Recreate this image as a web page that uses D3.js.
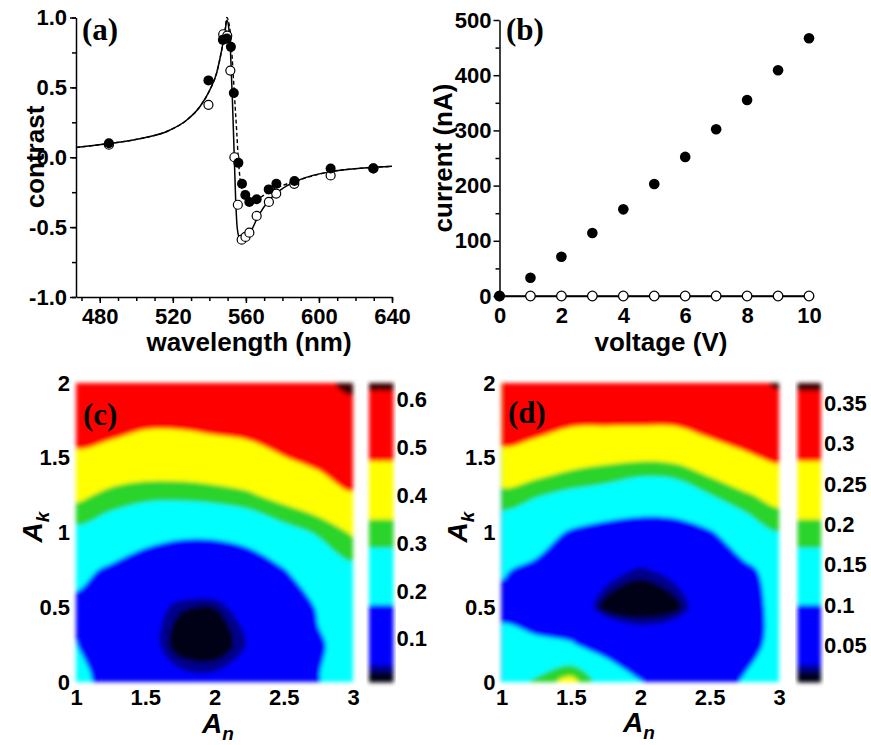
<!DOCTYPE html>
<html>
<head>
<meta charset="utf-8">
<script src="https://cdn.jsdelivr.net/npm/d3@7"></script>
<style>
  body { margin: 0; background: #fff; }
  svg text { font-family: "Liberation Sans", Arial, sans-serif; font-weight: bold; fill: #000; }
  .axis path, .axis line { stroke: #000; stroke-width: 1.5px; }
  .axis text { font-size: 22px; }
  .panel-label { font-family: "Liberation Serif", "Times New Roman", serif !important; font-size: 31px; }
</style>
</head>
<body>
<svg id="chart" width="871" height="745"></svg>
<script>
// ---- panel (a): contrast vs wavelength
var wlFilled = [485, 539.5, 547.4, 549.6, 551.8, 553.4, 555.9, 557.9, 559.7, 561.9, 565.9, 572.5, 576.7, 586.6, 606.4, 629.8];
var cFilled  = [0.10, 0.55, 0.84, 0.85, 0.79, 0.46, -0.04, -0.19, -0.27, -0.32, -0.30, -0.23, -0.19, -0.17, -0.08, -0.08];
var wlOpen = [485, 539.5, 547.6, 549.8, 551.5, 553.7, 555.6, 557.7, 559.8, 561.9, 565.9, 572.6, 576.6, 586.5, 606.4, 629.8];
var cOpen  = [0.09, 0.375, 0.88, 0.87, 0.62, 0.0, -0.34, -0.59, -0.57, -0.54, -0.42, -0.32, -0.26, -0.19, -0.13, -0.08];
// fitted curves (solid: open symbols, dashed: filled symbols)
var wlSolid = [467, 485, 504, 517, 528, 535, 540.4, 544, 546.8, 548.6, 549.6, 550.6, 551.6, 552.6, 553.5, 554.4, 555.3, 556.6, 558, 560, 562.3, 566.8, 573.2, 580.5, 589.6, 607.9, 626, 640];
var cSolid  = [0.07, 0.098, 0.138, 0.186, 0.27, 0.365, 0.485, 0.604, 0.77, 0.90, 0.98, 0.93, 0.75, 0.42, 0.06, -0.30, -0.51, -0.58, -0.585, -0.57, -0.54, -0.42, -0.30, -0.22, -0.16, -0.10, -0.076, -0.065];
var wlDashed = [467, 485, 504, 517, 528, 535, 540.4, 544, 546.8, 548.6, 549.6, 550.7, 551.8, 552.8, 554.0, 555.0, 555.8, 556.7, 558, 560, 562, 565, 570, 575, 580.5, 589.6, 607.9, 626, 640];
var cDashed  = [0.07, 0.098, 0.138, 0.186, 0.27, 0.365, 0.485, 0.604, 0.77, 0.91, 1.0, 0.96, 0.85, 0.65, 0.39, 0.18, 0.0, -0.14, -0.24, -0.30, -0.32, -0.31, -0.27, -0.23, -0.20, -0.16, -0.10, -0.076, -0.065];

// ---- panel (b): current vs voltage
var voltage    = [0, 1, 2, 3, 4, 5, 6, 7, 8, 9, 10];
var currentOn  = [0, 33, 71, 114, 157, 203, 252, 302, 355, 409, 467];
var currentOff = [0, 0, 0, 0, 0, 0, 0, 0, 0, 0, 0];

// ---- panels (c), (d): maps over A_n (columns) and A_k (rows, bottom to top)
var anGrid = [1, 1.25, 1.5, 1.75, 2, 2.25, 2.5, 2.75, 3];
var akGrid = [0, 0.25, 0.5, 0.75, 1, 1.25, 1.5, 1.75, 2];
var mapC = [
  [0.20, 0.14, 0.11, 0.065, 0.06, 0.08, 0.10, 0.17, 0.20],
  [0.175, 0.10, 0.07, 0.015, 0.01, 0.05, 0.09, 0.165, 0.20],
  [0.155, 0.10, 0.07, 0.035, 0.032, 0.07, 0.11, 0.18, 0.22],
  [0.195, 0.16, 0.12, 0.10, 0.10, 0.12, 0.168, 0.23, 0.27],
  [0.27, 0.24, 0.21, 0.19, 0.19, 0.21, 0.26, 0.30, 0.36],
  [0.37, 0.33, 0.31, 0.31, 0.32, 0.34, 0.38, 0.42, 0.465],
  [0.46, 0.43, 0.42, 0.42, 0.43, 0.44, 0.47, 0.50, 0.54],
  [0.51, 0.52, 0.49, 0.49, 0.50, 0.51, 0.53, 0.56, 0.58],
  [0.55, 0.55, 0.55, 0.55, 0.56, 0.57, 0.58, 0.60, 0.64]
];
var mapD = [
  [0.14, 0.18, 0.225, 0.14, 0.104, 0.07, 0.075, 0.105, 0.12],
  [0.115, 0.11, 0.105, 0.08, 0.05, 0.06, 0.06, 0.085, 0.115],
  [0.09, 0.075, 0.06, 0.008, 0.004, 0.01, 0.05, 0.075, 0.12],
  [0.105, 0.09, 0.07, 0.04, 0.022, 0.035, 0.06, 0.09, 0.12],
  [0.145, 0.125, 0.095, 0.08, 0.08, 0.08, 0.095, 0.135, 0.17],
  [0.19, 0.175, 0.16, 0.15, 0.13, 0.135, 0.17, 0.20, 0.225],
  [0.27, 0.25, 0.23, 0.22, 0.215, 0.22, 0.245, 0.27, 0.29],
  [0.30, 0.305, 0.29, 0.29, 0.29, 0.29, 0.31, 0.32, 0.33],
  [0.32, 0.325, 0.32, 0.32, 0.32, 0.325, 0.33, 0.345, 0.375]
];
var cbDomainC = [0.01, 0.635], cbTicksC = [0.1, 0.2, 0.3, 0.4, 0.5, 0.6];
var cbDomainD = [0.0045, 0.3756], cbTicksD = [0.05, 0.1, 0.15, 0.2, 0.25, 0.3, 0.35];
// colour bands as fractions of the colour bar range
var bandStops  = [0.035, 0.058, 0.26, 0.45, 0.545, 0.74, 0.975];
var bandColors = ["#000014", "#00008c", "#0000ff", "#00ffff", "#2ad42a", "#ffff00", "#ff0000", "#3c0000"];

var svg = d3.select("#chart");
var defs = svg.append("defs");
defs.append("filter").attr("id", "soft")
    .attr("x", "-10%").attr("y", "-10%").attr("width", "120%").attr("height", "120%")
  .append("feGaussianBlur").attr("stdDeviation", 2.2);

function panelLabel(txt, x, y) {
  svg.append("text").attr("class", "panel-label").attr("x", x).attr("y", y).text(txt);
}

// ================= (a) =================
var xA = d3.scaleLinear().domain([467, 640]).range([76, 392]),
    yA = d3.scaleLinear().domain([-1, 1]).range([297, 17.5]);

svg.append("g").attr("class", "axis minor").attr("transform", "translate(0,297)")
  .call(d3.axisBottom(xA).tickValues(d3.range(470, 641, 10)).tickSize(4).tickFormat(""))
  .select(".domain").remove();
svg.append("g").attr("class", "axis").attr("transform", "translate(0,297)")
  .call(d3.axisBottom(xA).tickValues([480, 520, 560, 600, 640]).tickSize(6).tickSizeOuter(0).tickPadding(5));
svg.append("g").attr("class", "axis minor").attr("transform", "translate(76,0)")
  .call(d3.axisLeft(yA).tickValues(d3.range(-1, 1.01, 0.25)).tickSize(4).tickFormat(""))
  .select(".domain").remove();
svg.append("g").attr("class", "axis").attr("transform", "translate(76,0)")
  .call(d3.axisLeft(yA).tickValues([-1, -0.5, 0, 0.5, 1]).tickSize(6).tickSizeOuter(0).tickPadding(3)
    .tickFormat(function(d) { return d.toFixed(1); }));

var lineA = d3.line().x(function(d) { return xA(d[0]); }).y(function(d) { return yA(d[1]); })
  .curve(d3.curveMonotoneX);
svg.append("path").datum(d3.zip(wlDashed, cDashed)).attr("d", lineA)
  .attr("fill", "none").attr("stroke", "#000").attr("stroke-width", 1.4).attr("stroke-dasharray", "4,2.5");
svg.append("path").datum(d3.zip(wlSolid, cSolid)).attr("d", lineA)
  .attr("fill", "none").attr("stroke", "#000").attr("stroke-width", 1.5);

svg.append("g").selectAll("circle").data(d3.zip(wlOpen, cOpen)).join("circle")
  .attr("cx", function(d) { return xA(d[0]); }).attr("cy", function(d) { return yA(d[1]); })
  .attr("r", 4.5).attr("fill", "#fff").attr("stroke", "#000").attr("stroke-width", 1.2);
svg.append("g").selectAll("circle").data(d3.zip(wlFilled, cFilled)).join("circle")
  .attr("cx", function(d) { return xA(d[0]); }).attr("cy", function(d) { return yA(d[1]); })
  .attr("r", 5).attr("fill", "#000");

svg.append("text").attr("transform", "translate(44,157) rotate(-90)").attr("text-anchor", "middle")
  .style("font-size", "26px").text("contrast");
svg.append("text").attr("x", 249).attr("y", 351).attr("text-anchor", "middle")
  .style("font-size", "26px").text("wavelength (nm)");
panelLabel("(a)", 82, 40);

// ================= (b) =================
var xB = d3.scaleLinear().domain([0, 10]).range([499.5, 809]),
    yB = d3.scaleLinear().domain([0, 500]).range([296, 20]);

svg.append("g").attr("class", "axis minor").attr("transform", "translate(499.5,0)")
  .call(d3.axisLeft(yB).tickValues(d3.range(50, 500, 100)).tickSize(4).tickFormat(""))
  .select(".domain").remove();
svg.append("g").attr("class", "axis").attr("transform", "translate(499.5,0)")
  .call(d3.axisLeft(yB).tickValues(d3.range(0, 501, 100)).tickSize(6).tickSizeOuter(0).tickPadding(2));
svg.append("g").attr("class", "axis").attr("transform", "translate(0,296)")
  .call(d3.axisBottom(xB).tickValues(d3.range(0, 11, 2)).tickSize(0).tickPadding(11));

var lineB = d3.line().x(function(d) { return xB(d[0]); }).y(function(d) { return yB(d[1]); });
svg.append("path").datum(d3.zip(voltage, currentOff)).attr("d", lineB)
  .attr("fill", "none").attr("stroke", "#000").attr("stroke-width", 1.3);
svg.append("g").selectAll("circle").data(d3.zip(voltage, currentOff)).join("circle")
  .attr("cx", function(d) { return xB(d[0]); }).attr("cy", function(d) { return yB(d[1]); })
  .attr("r", 4.8).attr("fill", "#fff").attr("stroke", "#000").attr("stroke-width", 1.3);
svg.append("g").selectAll("circle").data(d3.zip(voltage, currentOn)).join("circle")
  .attr("cx", function(d) { return xB(d[0]); }).attr("cy", function(d) { return yB(d[1]); })
  .attr("r", 5.3).attr("fill", "#000");

svg.append("text").attr("transform", "translate(452,158) rotate(-90)").attr("text-anchor", "middle")
  .style("font-size", "26px").text("current (nA)");
svg.append("text").attr("x", 661).attr("y", 351).attr("text-anchor", "middle")
  .style("font-size", "26px").text("voltage (V)");
panelLabel("(b)", 506, 40);

// ================= (c), (d) =================
function mapPanel(id, grid, xs, ys, cbX, cbW, cbDomain, cbTicks) {
  var n = anGrid.length, m = akGrid.length;
  var levels = bandStops.map(function(s) { return cbDomain[0] + s * (cbDomain[1] - cbDomain[0]); });
  var color = d3.scaleThreshold().domain(levels).range(bandColors);
  // grid coordinates of d3.contours -> data space
  var gi = d3.scaleLinear().domain([0.5, n - 0.5]).range([anGrid[0], anGrid[n - 1]]),
      gj = d3.scaleLinear().domain([0.5, m - 0.5]).range([akGrid[0], akGrid[m - 1]]);
  var ring = d3.line()
    .x(function(p) { return xs(gi(p[0])); })
    .y(function(p) { return ys(gj(p[1])); })
    .curve(d3.curveCatmullRomClosed.alpha(0.5));
  var values = d3.merge(grid);
  var contours = d3.contours().size([n, m])
    .thresholds([d3.min(values) - 1].concat(levels))(values);

  defs.append("clipPath").attr("id", "clip" + id).append("rect")
    .attr("x", xs.range()[0]).attr("y", ys.range()[1])
    .attr("width", xs.range()[1] - xs.range()[0]).attr("height", ys.range()[0] - ys.range()[1]);
  svg.append("g").attr("filter", "url(#soft)")
    .append("g").attr("clip-path", "url(#clip" + id + ")")
    .selectAll("path").data(contours).join("path")
    .attr("d", function(c) {
      return c.coordinates.map(function(poly) {
        return poly.map(function(r) { return ring(r.slice(0, -1)); }).join("");
      }).join("");
    })
    .attr("fill-rule", "evenodd")
    .attr("fill", function(d) { return color(d.value); });

  // colour bar
  var cbY = d3.scaleLinear().domain(cbDomain).range(ys.range());
  var edges = [cbDomain[0]].concat(levels, [cbDomain[1]]);
  svg.append("g").attr("filter", "url(#soft)").selectAll("rect").data(d3.pairs(edges)).join("rect")
    .attr("x", cbX).attr("width", cbW)
    .attr("y", function(d) { return cbY(d[1]); })
    .attr("height", function(d) { return cbY(d[0]) - cbY(d[1]) + 0.5; })
    .attr("fill", function(d, i) { return bandColors[i]; });
  svg.append("g").attr("class", "axis").attr("transform", "translate(" + (cbX + cbW) + ",0)")
    .call(d3.axisRight(cbY).tickValues(cbTicks).tickSize(0).tickPadding(3).tickFormat(d3.format("~g")))
    .select(".domain").remove();

  svg.append("g").attr("class", "axis").attr("transform", "translate(" + xs.range()[0] + ",0)")
    .call(d3.axisLeft(ys).tickValues([0, 0.5, 1, 1.5, 2]).tickSize(0).tickPadding(6).tickFormat(d3.format("~g")))
    .select(".domain").remove();
  svg.append("g").attr("class", "axis").attr("transform", "translate(0," + ys.range()[0] + ")")
    .call(d3.axisBottom(xs).tickValues([1, 1.5, 2, 2.5, 3]).tickSize(0).tickPadding(7).tickFormat(d3.format("~g")))
    .select(".domain").remove();
}

function subTitle(x, y, rotate, main, sub) {
  var t = svg.append("text")
    .attr("transform", "translate(" + x + "," + y + ")" + (rotate ? " rotate(-90)" : ""))
    .attr("text-anchor", "middle").style("font-style", "italic").style("font-size", "28px");
  t.append("tspan").text(main);
  t.append("tspan").attr("dy", 7).style("font-size", "19px").text(sub);
}

var xC = d3.scaleLinear().domain([1, 3]).range([76, 353]),
    yC = d3.scaleLinear().domain([0, 2]).range([682, 383]);
mapPanel("c", mapC, xC, yC, 369, 24.5, cbDomainC, cbTicksC);
subTitle(218, 733, false, "A", "n");
subTitle(42, 527, true, "A", "k");
panelLabel("(c)", 83, 425);

var xD = d3.scaleLinear().domain([1, 3]).range([501.5, 779]),
    yD = d3.scaleLinear().domain([0, 2]).range([682, 383]);
mapPanel("d", mapD, xD, yD, 797.5, 23.5, cbDomainD, cbTicksD);
subTitle(639, 732, false, "A", "n");
subTitle(467, 527, true, "A", "k");
panelLabel("(d)", 508, 423);
</script>
</body>
</html>
